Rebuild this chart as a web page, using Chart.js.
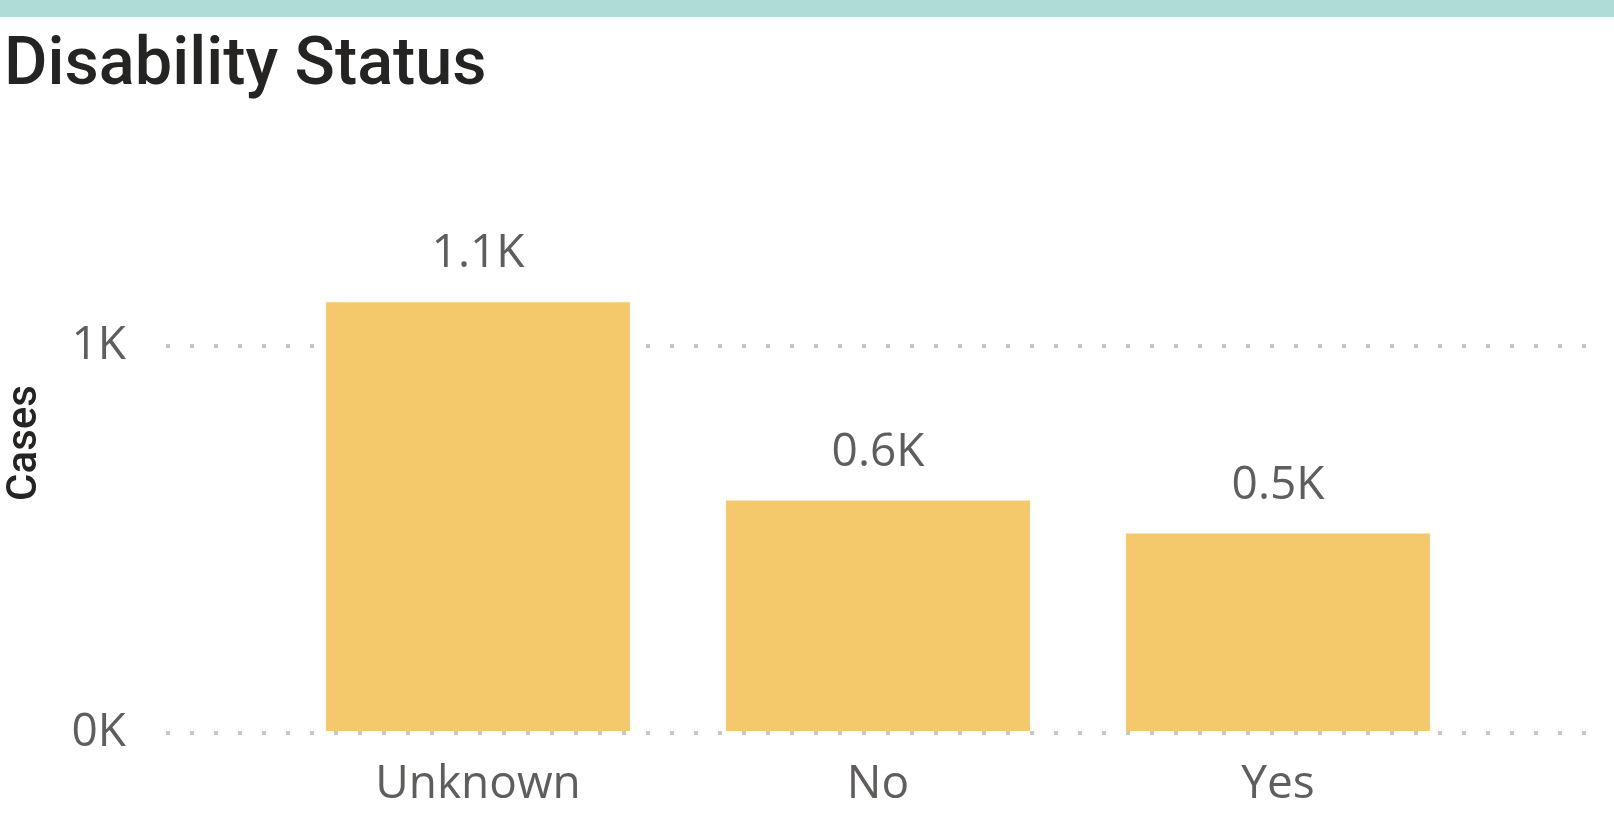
<!DOCTYPE html>
<html>
<head>
<meta charset="utf-8">
<script src="https://cdn.jsdelivr.net/npm/chart.js@4.4.1/dist/chart.umd.min.js"></script>
<style>
  html, body { margin: 0; padding: 0; background: #fff; }
  #wrap { position: relative; width: 1614px; height: 819px; overflow: hidden; }
  #topBar { position: absolute; left: 0; top: 0; width: 1614px; height: 17px; background: #AEDDD7; }
  #title {
    position: absolute; left: 4px; top: 29px; margin: 0;
    font-family: Roboto, sans-serif; font-weight: 500; font-size: 66px; line-height: 66px;
    color: #252423; white-space: nowrap; transform-origin: 0 0; transform: scaleX(1.01);
  }
  #chartBox { position: absolute; left: 0; top: 0; width: 1614px; height: 819px; }
</style>
</head>
<body>
<div id="wrap">
  <div id="chartBox"><canvas id="chart"></canvas></div>
  <div id="topBar"></div>
  <div id="title">Disability Status</div>
</div>
<script>
// Данные
const categories = ['Unknown', 'No', 'Yes'];
const cases = [1114, 601, 516];
const yTickValues = [0, 1000];

const barColor = '#F3C96B';
const textGray = '#605E5C';
const labelFont = { family: "'Open Sans', 'Noto Sans', sans-serif", size: 46 };

const fmtK = v => (v / 1000).toFixed(1) + 'K';

// Подписи над столбцами
const valueLabels = {
    id: 'valueLabels',
    afterDatasetsDraw(chart) {
        const ctx = chart.ctx;
        const meta = chart.getDatasetMeta(0);
        ctx.save();
        ctx.font = `${labelFont.size}px ${labelFont.family}`;
        ctx.fillStyle = textGray;
        ctx.textAlign = 'center';
        ctx.textBaseline = 'middle';
        meta.data.forEach((bar, i) => {
            ctx.fillText(fmtK(cases[i]), bar.x, bar.y - 48);
        });
        ctx.restore();
    }
};

const ctx = document.getElementById('chart').getContext('2d');
new Chart(ctx, {
    type: 'bar',
    data: {
        datasets: [{
            label: 'Cases',
            data: categories.map((c, i) => ({ x: i, y: cases[i] })),
            backgroundColor: barColor,
            borderWidth: 0,
            barPercentage: 0.76,
            categoryPercentage: 1
        }]
    },
    options: {
        responsive: true,
        maintainAspectRatio: false,
        animation: false,
        layout: { padding: { top: 153, right: 24, bottom: 0, left: 0 } },
        plugins: {
            legend: { display: false },
            tooltip: { enabled: false }
        },
        scales: {
            x: {
                type: 'linear',
                offset: false,
                min: -0.78,
                max: 2.78,
                afterBuildTicks: scale => { scale.ticks = categories.map((c, i) => ({ value: i })); },
                afterFit: scale => { scale.height = 86; },
                grid: { display: false, drawTicks: false },
                border: { display: false },
                ticks: {
                    callback: v => categories[v],
                    color: textGray,
                    font: labelFont,
                    padding: 24,
                    maxRotation: 0,
                    autoSkip: false
                }
            },
            y: {
                min: 0,
                max: 1500,
                afterBuildTicks: scale => { scale.ticks = yTickValues.map(v => ({ value: v })); },
                afterFit: scale => { scale.width = 166; },
                grid: { color: '#C8C6C4', lineWidth: 4, drawTicks: false },
                border: { display: false, dash: [4, 20] },
                ticks: {
                    callback: v => (v / 1000) + 'K',
                    color: textGray,
                    font: labelFont,
                    padding: 40
                },
                title: {
                    display: true,
                    text: 'Cases',
                    color: '#252423',
                    font: { family: 'Roboto, sans-serif', size: 42, weight: '500' },
                    padding: 0
                }
            }
        }
    },
    plugins: [valueLabels]
});
</script>
</body>
</html>
